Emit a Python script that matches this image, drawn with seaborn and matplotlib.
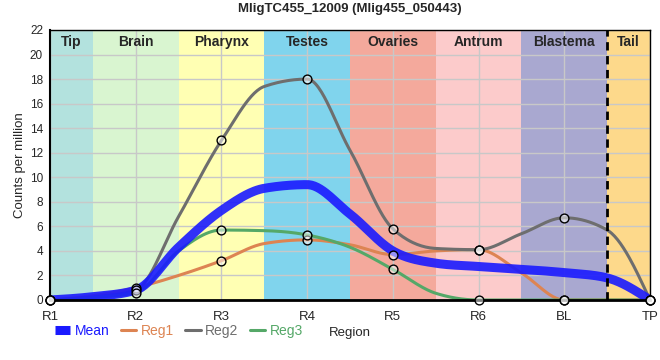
import numpy as np
import pandas as pd
import matplotlib
matplotlib.use("Agg")
import matplotlib.pyplot as plt
import seaborn as sns

# values at the region ticks (the circles)
regions = ["R1", "R2", "R3", "R4", "R5", "R6", "BL", "TP"]
reg1 = [0.0, 1.0, 3.2, 4.9, 3.7, 4.1, 0.0, 0.0]
reg2 = [0.0, 0.8, 13.0, 18.0, 5.8, 4.1, 6.7, 0.0]
reg3 = [0.0, 0.6, 5.7, 5.3, 2.5, 0.0, 0.0, 0.0]
mean = [0.0, 0.8, 7.3, 9.4, 4.0, 2.73, 2.23, 0.0]

# values at the band boundaries (between ticks)
reg1_mid = [0.35, 2.0, 4.6, 4.5, 4.0, 2.2, 0.0]
reg2_mid = [0.25, 6.8, 17.4, 12.2, 4.2, 5.4, 5.7]
reg3_mid = [0.2, 4.0, 5.65, 4.3, 0.55, 0.0, 0.0]
mean_mid = [0.27, 4.3, 9.1, 7.0, 3.0, 2.5, 1.8]

band_names = ["Tip", "Brain", "Pharynx", "Testes", "Ovaries", "Antrum", "Blastema", "Tail"]
band_edges = [0, 0.5, 1.5, 2.5, 3.5, 4.5, 5.5, 6.5, 7]
band_colors = ["#b3e2de", "#d9f5d0", "#ffffb3", "#80d4ed", "#f4a99c", "#fccbcb", "#a9a8d0", "#fdd98b"]


#monotone cubic curve through the points (same idea as d3 curveMonotoneX)
def smooth(x, y, n=30):
    x = np.asarray(x, float)
    y = np.asarray(y, float)
    h = np.diff(x)
    s = np.diff(y) / h
    t = np.zeros(len(y))
    for i in range(1, len(y) - 1):
        p = (s[i - 1] * h[i] + s[i] * h[i - 1]) / (h[i - 1] + h[i])
        sg = (1 if s[i - 1] >= 0 else -1) + (1 if s[i] >= 0 else -1)
        t[i] = sg * min(abs(s[i - 1]), abs(s[i]), 0.5 * abs(p))
    t[0] = (3 * s[0] - t[1]) / 2
    t[-1] = (3 * s[-1] - t[-2]) / 2
    xs, ys = [], []
    for i in range(len(y) - 1):
        u = np.linspace(0, 1, n, endpoint=(i == len(y) - 2))
        h00 = 2 * u**3 - 3 * u**2 + 1
        h10 = u**3 - 2 * u**2 + u
        h01 = -2 * u**3 + 3 * u**2
        h11 = u**3 - u**2
        xs.append(x[i] + u * h[i])
        ys.append(h00 * y[i] + h10 * h[i] * t[i] + h01 * y[i + 1] + h11 * h[i] * t[i + 1])
    return np.concatenate(xs), np.concatenate(ys)


def interleave(a, b):
    out = []
    for i in range(len(b)):
        out += [a[i], b[i]]
    return out + [a[-1]]


sns.set_style("white")
plt.rcParams['font.family'] = ['Liberation Sans', 'DejaVu Sans']

fig = plt.figure(figsize=(6.6, 3.6), dpi=100)
ax = fig.add_axes([50 / 660, 60 / 360, 600 / 660, 270 / 360])

#background bands
for i, name in enumerate(band_names):
    ax.axvspan(band_edges[i], band_edges[i + 1], color=band_colors[i], zorder=0.1, lw=0)
    ax.text((band_edges[i] + band_edges[i + 1]) / 2, 21.05, name, ha="center", va="center",
            fontsize=10, fontweight="bold", zorder=5)
ax.axvline(6.5, color="black", ls=(0, (3, 2)), lw=2, zorder=3)

xfull = np.arange(2 * len(regions) - 1) / 2
series = [("Reg1", reg1, reg1_mid, "#dd8452", 2.2), ("Reg2", reg2, reg2_mid, "#6e6e6e", 2.2),
          ("Reg3", reg3, reg3_mid, "#55a868", 2.2), ("Mean", mean, mean_mid, "#1a1aff", 6.5)]
for name, vals, mids, col, lw in series:
    xs, ys = smooth(xfull, interleave(vals, mids))
    sns.lineplot(x=xs, y=ys, ax=ax, color=col, lw=lw, sort=False, estimator=None,
                 zorder=2.5 if name == "Mean" else 2, alpha=0.9 if name == "Mean" else 1.0,
                 solid_capstyle="butt")

#points
pts = pd.DataFrame({"x": np.tile(np.arange(len(regions)), 3), "y": reg1 + reg2 + reg3})
sns.scatterplot(data=pts, x="x", y="y", ax=ax, s=40, color=(1, 1, 1, 0.5),
                edgecolor="black", linewidth=1, zorder=4, clip_on=False)

ax.set_xlim(0, 7)
ax.set_ylim(0, 22)
ax.set_xticks(range(len(regions)))
ax.set_xticklabels(regions, fontsize=9.5)
ax.set_yticks(range(0, 23, 2))
ax.tick_params(axis="y", labelsize=8.5, length=3, width=1, pad=2)
ax.tick_params(axis="x", length=5, width=1, pad=3)
ax.set_axisbelow(True)
ax.grid(True, color="#c8c8c8", lw=1)
for side in ["top", "right"]:
    ax.spines[side].set_linewidth(1)
    ax.spines[side].set_color("black")
ax.spines["left"].set_linewidth(1.5)
ax.spines["bottom"].set_linewidth(2)
ax.spines["left"].set_color("black")
ax.spines["bottom"].set_color("black")

ax.set_ylabel("Counts per million", fontsize=9.5, labelpad=3)
ax.set_xlabel("Region", fontsize=9.5, labelpad=3)
ax.set_title("MligTC455_12009 (Mlig455_050443)", fontsize=9.5, fontweight="bold", pad=13)

handles = [plt.Line2D([], [], color="#1a1aff", lw=6.5, solid_capstyle="butt"),
           plt.Line2D([], [], color="#dd8452", lw=2.2),
           plt.Line2D([], [], color="#6e6e6e", lw=2.2),
           plt.Line2D([], [], color="#55a868", lw=2.2)]
fig.legend(handles, ["Mean", "Reg1", "Reg2", "Reg3"], loc="center left", bbox_to_anchor=(55 / 660, 0.08),
           ncol=4, frameon=False, fontsize=10, labelcolor="linecolor", handlelength=1.1,
           handletextpad=0.3, columnspacing=0.85, borderpad=0, borderaxespad=0)

plt.savefig("out.png", dpi=100)
